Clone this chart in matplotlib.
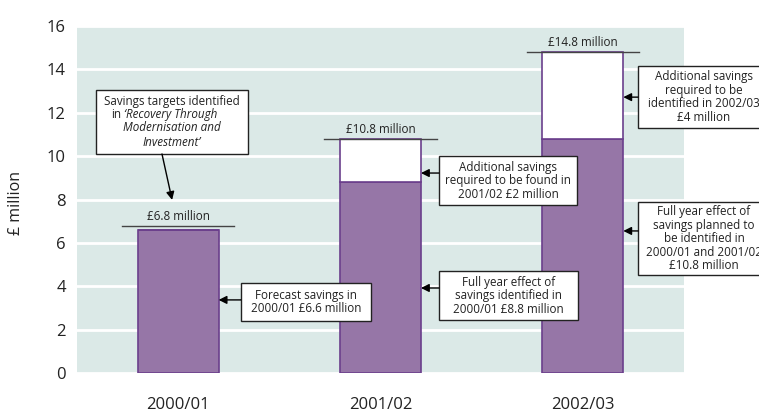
import matplotlib.pyplot as plt
from matplotlib.patches import Rectangle

# ---------------- data ----------------
years = ["2000/01", "2001/02", "2002/03"]
identified = [6.6, 8.8, 10.8]          # purple part of each bar
additional = [0.0, 2.0, 4.0]           # white part stacked on top
targets = [6.8, 10.8, 14.8]            # total line above each bar
target_labels = ["£6.8 million", "£10.8 million", "£14.8 million"]
y_ticks = [0, 2, 4, 6, 8, 10, 12, 14, 16]

# callout boxes: text, bar index pointed at, box (x0, y0, x1, y1), arrow y
callouts = [
    ("Forecast savings in\n2000/01 £6.6 million", 0, (0.31, 2.40, 0.953, 4.15), 3.37),
    ("Additional savings\nrequired to be found in\n2001/02 £2 million", 1, (1.289, 7.75, 1.971, 10.0), 9.22),
    ("Full year effect of\nsavings identified in\n2000/01 £8.8 million", 1, (1.289, 2.44, 1.976, 4.70), 3.92),
    ("Additional savings\nrequired to be\nidentified in 2002/03\n£4 million", 2, (2.273, 11.30, 2.925, 14.15), 12.72),
    ("Full year effect of\nsavings planned to\nbe identified in\n2000/01 and 2001/02\n£10.8 million", 2, (2.273, 4.52, 2.925, 7.88), 6.55),
]

# ---------------- style ----------------
BG = "#dbe9e7"
PURPLE = "#9676a7"
EDGE = "#6b3f8c"
TXT = "#222222"
FONT = "Open Sans"
BAR_W = 0.4
FS_SMALL = 8.4

plt.rcParams["font.family"] = [FONT, "DejaVu Sans"]

fig = plt.figure(figsize=(7.59, 4.12), dpi=100)
ax = fig.add_axes([77 / 759, 39 / 412, 607 / 759, 347 / 412])
ax.set_facecolor(BG)
ax.set_xlim(-0.5, 2.5)
ax.set_ylim(0, 16)

for s in ax.spines.values():
    s.set_visible(False)

ax.set_yticks(y_ticks)
ax.set_yticklabels([str(v) for v in y_ticks], fontsize=12, color=TXT)
ax.set_xticks(range(len(years)))
ax.set_xticklabels(years, fontsize=12, color=TXT)
ax.tick_params(axis="y", length=0, pad=8)
ax.tick_params(axis="x", length=0, pad=17)
ax.set_axisbelow(True)
ax.yaxis.grid(True, color="white", lw=2)
ax.xaxis.grid(False)

x = list(range(len(years)))
ax.bar(x, identified, width=BAR_W, color=PURPLE, edgecolor=EDGE, lw=1.2, zorder=2)
ax.bar(x, additional, width=BAR_W, bottom=identified, color="white", edgecolor=EDGE, lw=1.2, zorder=2)

# total lines with labels
for i, (t, lab) in enumerate(zip(targets, target_labels)):
    ax.plot([i - 0.277, i + 0.277], [t, t], color="#444444", lw=1, zorder=3)
    ax.text(i, t + 0.12, lab, ha="center", va="bottom", fontsize=FS_SMALL, color=TXT, zorder=3)

fig.text(16 / 759, 1 - 203 / 412, "£ million", rotation=90, ha="center", va="center",
         fontsize=11.5, color=TXT)

arrow_props = dict(arrowstyle="-|>", color="black", lw=1, mutation_scale=12, shrinkA=0, shrinkB=0)

# callout boxes on the right of bars
for text, idx, (x0, y0, x1, y1), ay in callouts:
    r = Rectangle((x0, y0), x1 - x0, y1 - y0, facecolor="white", edgecolor="#222222",
                  lw=1, zorder=5, clip_on=False)
    ax.add_patch(r)
    ax.text((x0 + x1) / 2, (y0 + y1) / 2, text, ha="center", va="center", fontsize=FS_SMALL,
            color=TXT, linespacing=1.05, zorder=6, clip_on=False)
    ax.annotate("", xy=(idx + BAR_W / 2, ay), xytext=(x0, ay), arrowprops=arrow_props, zorder=6)

# top-left box with the italic report title
bx0, by0, bx1, by1 = -0.406, 10.10, 0.345, 13.05
ax.add_patch(Rectangle((bx0, by0), bx1 - bx0, by1 - by0, facecolor="white",
                       edgecolor="#222222", lw=1, zorder=5))
cx = (bx0 + bx1) / 2
ax.text(cx, 12.50, "Savings targets identified", ha="center", va="center",
        fontsize=FS_SMALL, color=TXT, zorder=6)
ax.text(-0.33, 11.92, "in", ha="left", va="center", fontsize=FS_SMALL, color=TXT, zorder=6)
ax.text(-0.268, 11.92, "‘Recovery Through", ha="left", va="center", fontsize=FS_SMALL,
        style="italic", color=TXT, zorder=6)
ax.text(cx, 11.30, "Modernisation and", ha="center", va="center", fontsize=FS_SMALL,
        style="italic", color=TXT, zorder=6)
ax.text(cx, 10.62, "Investment’", ha="center", va="center", fontsize=FS_SMALL,
        style="italic", color=TXT, zorder=6)
ax.annotate("", xy=(-0.03, 7.98), xytext=(-0.08, by0), arrowprops=arrow_props, zorder=6)

fig.savefig("out.png", dpi=100)
